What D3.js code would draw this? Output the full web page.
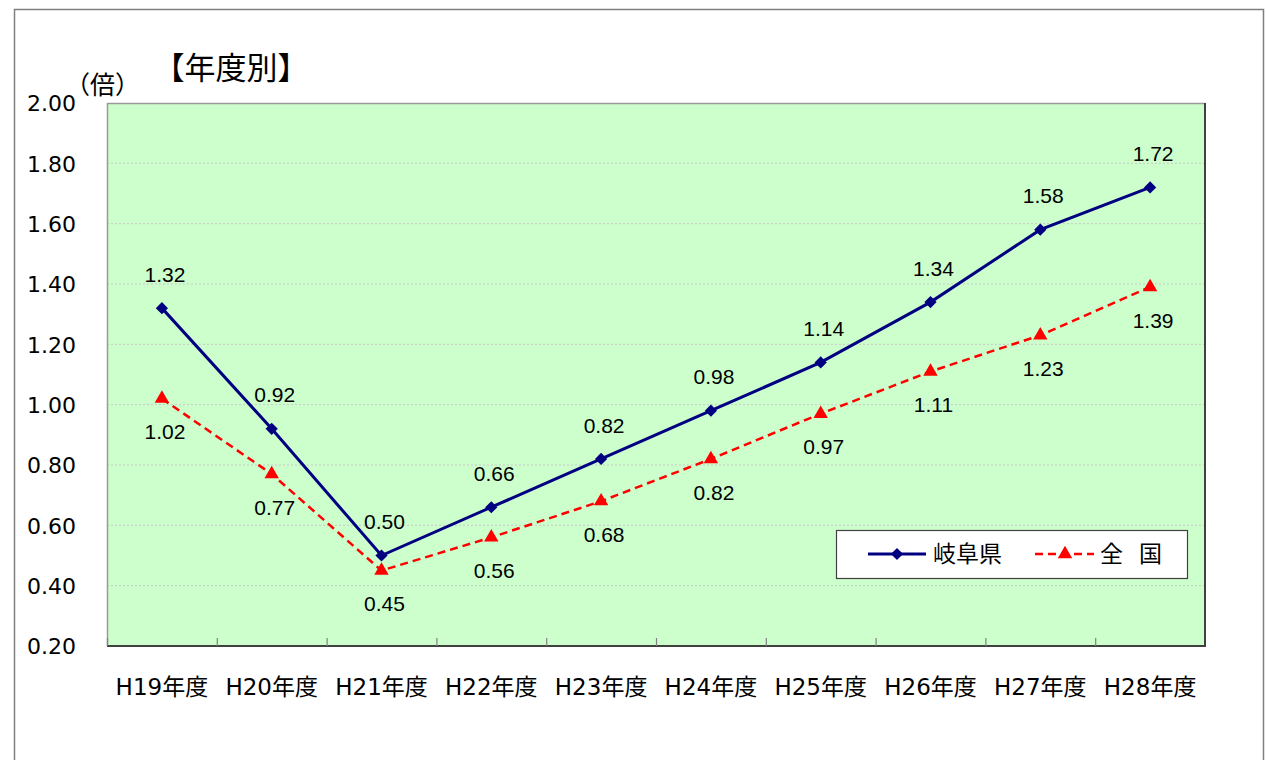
<!DOCTYPE html>
<html><head><meta charset="utf-8">
<script src="https://cdn.jsdelivr.net/npm/d3@7"></script>
<style>
body{margin:0;background:#fff;}
svg{display:block;}
</style></head>
<body>
<svg id="c" width="1266" height="760"></svg>
<script>
const categories = ["H19年度","H20年度","H21年度","H22年度","H23年度","H24年度","H25年度","H26年度","H27年度","H28年度"];
const gifu = [1.32, 0.92, 0.50, 0.66, 0.82, 0.98, 1.14, 1.34, 1.58, 1.72];
const national = [1.02, 0.77, 0.45, 0.56, 0.68, 0.82, 0.97, 1.11, 1.23, 1.39];
const yTicks = [0.20, 0.40, 0.60, 0.80, 1.00, 1.20, 1.40, 1.60, 1.80, 2.00];
const seriesNames = ["岐阜県", "全　国"];
const title = "【年度別】";
const unit = "（倍）";

const svg = d3.select("#c");
const L = 107, R = 1205, T = 103, B = 646;
const jpFont = "'DejaVu Sans','Noto Sans CJK JP',sans-serif";
const numFont = "'Liberation Sans','Noto Sans CJK JP',sans-serif";
const cjk = "'Noto Sans CJK JP',sans-serif";

// outer border
svg.append("rect").attr("x",14.5).attr("y",9.5).attr("width",1249).attr("height",800)
  .attr("fill","#fff").attr("stroke","#7f7f7f").attr("stroke-width",1.5);

const x = d3.scaleBand().domain(categories).range([L, R]).padding(0);
const y = d3.scaleLinear().domain([0.2, 2.0]).range([B, T]);

// plot background
svg.append("rect").attr("x",L).attr("y",T).attr("width",R-L).attr("height",B-T)
  .attr("fill","#CCFFCC");

// gridlines
svg.append("g").selectAll("line").data(yTicks.filter(d=>d>0.2 && d<2.0)).join("line")
  .attr("x1",L).attr("x2",R).attr("y1",d=>y(d)).attr("y2",d=>y(d))
  .attr("stroke","#c8c8c8").attr("stroke-width",1).attr("stroke-dasharray","2,2");

// plot border
svg.append("line").attr("x1",L).attr("x2",R).attr("y1",T+0.5).attr("y2",T+0.5).attr("stroke","#9a9a9a").attr("stroke-width",1.5);
svg.append("line").attr("x1",L+0.5).attr("x2",L+0.5).attr("y1",T).attr("y2",B).attr("stroke","#9a9a9a").attr("stroke-width",1.5);
svg.append("line").attr("x1",R).attr("x2",R).attr("y1",T).attr("y2",B+1).attr("stroke","#404040").attr("stroke-width",2);
svg.append("line").attr("x1",L).attr("x2",R+1).attr("y1",B).attr("y2",B).attr("stroke","#404040").attr("stroke-width",2);

// category tick marks (inside, at boundaries)
const bounds = categories.map(c=>x(c));
svg.append("g").selectAll("line").data(bounds).join("line")
  .attr("x1",d=>d+0.5).attr("x2",d=>d+0.5).attr("y1",B-8).attr("y2",B)
  .attr("stroke","#808080").attr("stroke-width",1.2);

// y axis labels
const yAxis = d3.axisLeft(y).tickValues(yTicks).tickFormat(d3.format(".2f")).tickSize(0).tickPadding(0);
const ya = svg.append("g").attr("transform",`translate(76,0)`).call(yAxis);
ya.select(".domain").remove();
ya.selectAll("text").attr("font-family",jpFont).attr("font-size",22).attr("fill","#000").attr("dy","0.36em");

// x axis labels
const xAxis = d3.axisBottom(x).tickSize(0).tickPadding(0);
const xa = svg.append("g").attr("transform",`translate(0,${B})`).call(xAxis);
xa.select(".domain").remove();
xa.selectAll("text").attr("font-family",jpFont).attr("font-size",23).attr("fill","#000").attr("y",41).attr("dy","0.36em");

// title & unit
svg.append("text").attr("x",231).attr("y",79).attr("text-anchor","middle")
  .attr("font-family",cjk).attr("font-size",31).text(title);
svg.append("text").attr("x",65).attr("y",94)
  .attr("font-family",cjk).attr("font-size",25).text(unit);

const cx = d => x(d) + x.bandwidth()/2;
const line = d3.line().x(d=>cx(d.c)).y(d=>y(d.v));
const gData = categories.map((c,i)=>({c, v:gifu[i]}));
const nData = categories.map((c,i)=>({c, v:national[i]}));

// national line
svg.append("path").datum(nData).attr("d",line).attr("fill","none")
  .attr("stroke","#FF0000").attr("stroke-width",2.5).attr("stroke-dasharray","8,5");
// gifu line
svg.append("path").datum(gData).attr("d",line).attr("fill","none")
  .attr("stroke","#000080").attr("stroke-width",3);

const diamond = d3.symbol().type(d3.symbolDiamond2).size(95);
const tri = d3.symbol().type(d3.symbolTriangle).size(90);

svg.append("g").selectAll("path").data(nData).join("path")
  .attr("d",tri).attr("transform",d=>`translate(${cx(d.c)},${y(d.v)})`).attr("fill","#FF0000");
svg.append("g").selectAll("path").data(gData).join("path")
  .attr("d",diamond).attr("transform",d=>`translate(${cx(d.c)},${y(d.v)})`).attr("fill","#000080");

// labels
svg.append("g").selectAll("text").data(gData).join("text")
  .attr("x",d=>cx(d.c)+3).attr("y",d=>y(d.v)-34).attr("dy","0.36em").attr("text-anchor","middle")
  .attr("font-family",numFont).attr("font-size",21).text(d=>d3.format(".2f")(d.v));
svg.append("g").selectAll("text").data(nData).join("text")
  .attr("x",d=>cx(d.c)+3).attr("y",d=>y(d.v)+33).attr("dy","0.36em").attr("text-anchor","middle")
  .attr("font-family",numFont).attr("font-size",21).text(d=>d3.format(".2f")(d.v));

// legend
const lg = svg.append("g");
lg.append("rect").attr("x",836.5).attr("y",530.5).attr("width",351).attr("height",48)
  .attr("fill","#fff").attr("stroke","#404040").attr("stroke-width",1.2);
const ly = 554;
lg.append("line").attr("x1",868).attr("x2",926).attr("y1",ly).attr("y2",ly).attr("stroke","#000080").attr("stroke-width",3);
lg.append("path").attr("d",diamond).attr("transform",`translate(897,${ly})`).attr("fill","#000080");
lg.append("text").attr("x",933).attr("y",ly).attr("dy","0.36em").attr("font-family",cjk).attr("font-size",23).text(seriesNames[0]);
lg.append("line").attr("x1",1035).attr("x2",1094).attr("y1",ly).attr("y2",ly).attr("stroke","#FF0000").attr("stroke-width",2.5).attr("stroke-dasharray","8,5");
lg.append("path").attr("d",tri).attr("transform",`translate(1065,${ly})`).attr("fill","#FF0000");
lg.append("text").attr("x",1100).attr("y",ly).attr("dy","0.36em").attr("font-family",cjk).attr("font-size",23).attr("textLength",62).text(seriesNames[1]);
</script>
</body></html>
